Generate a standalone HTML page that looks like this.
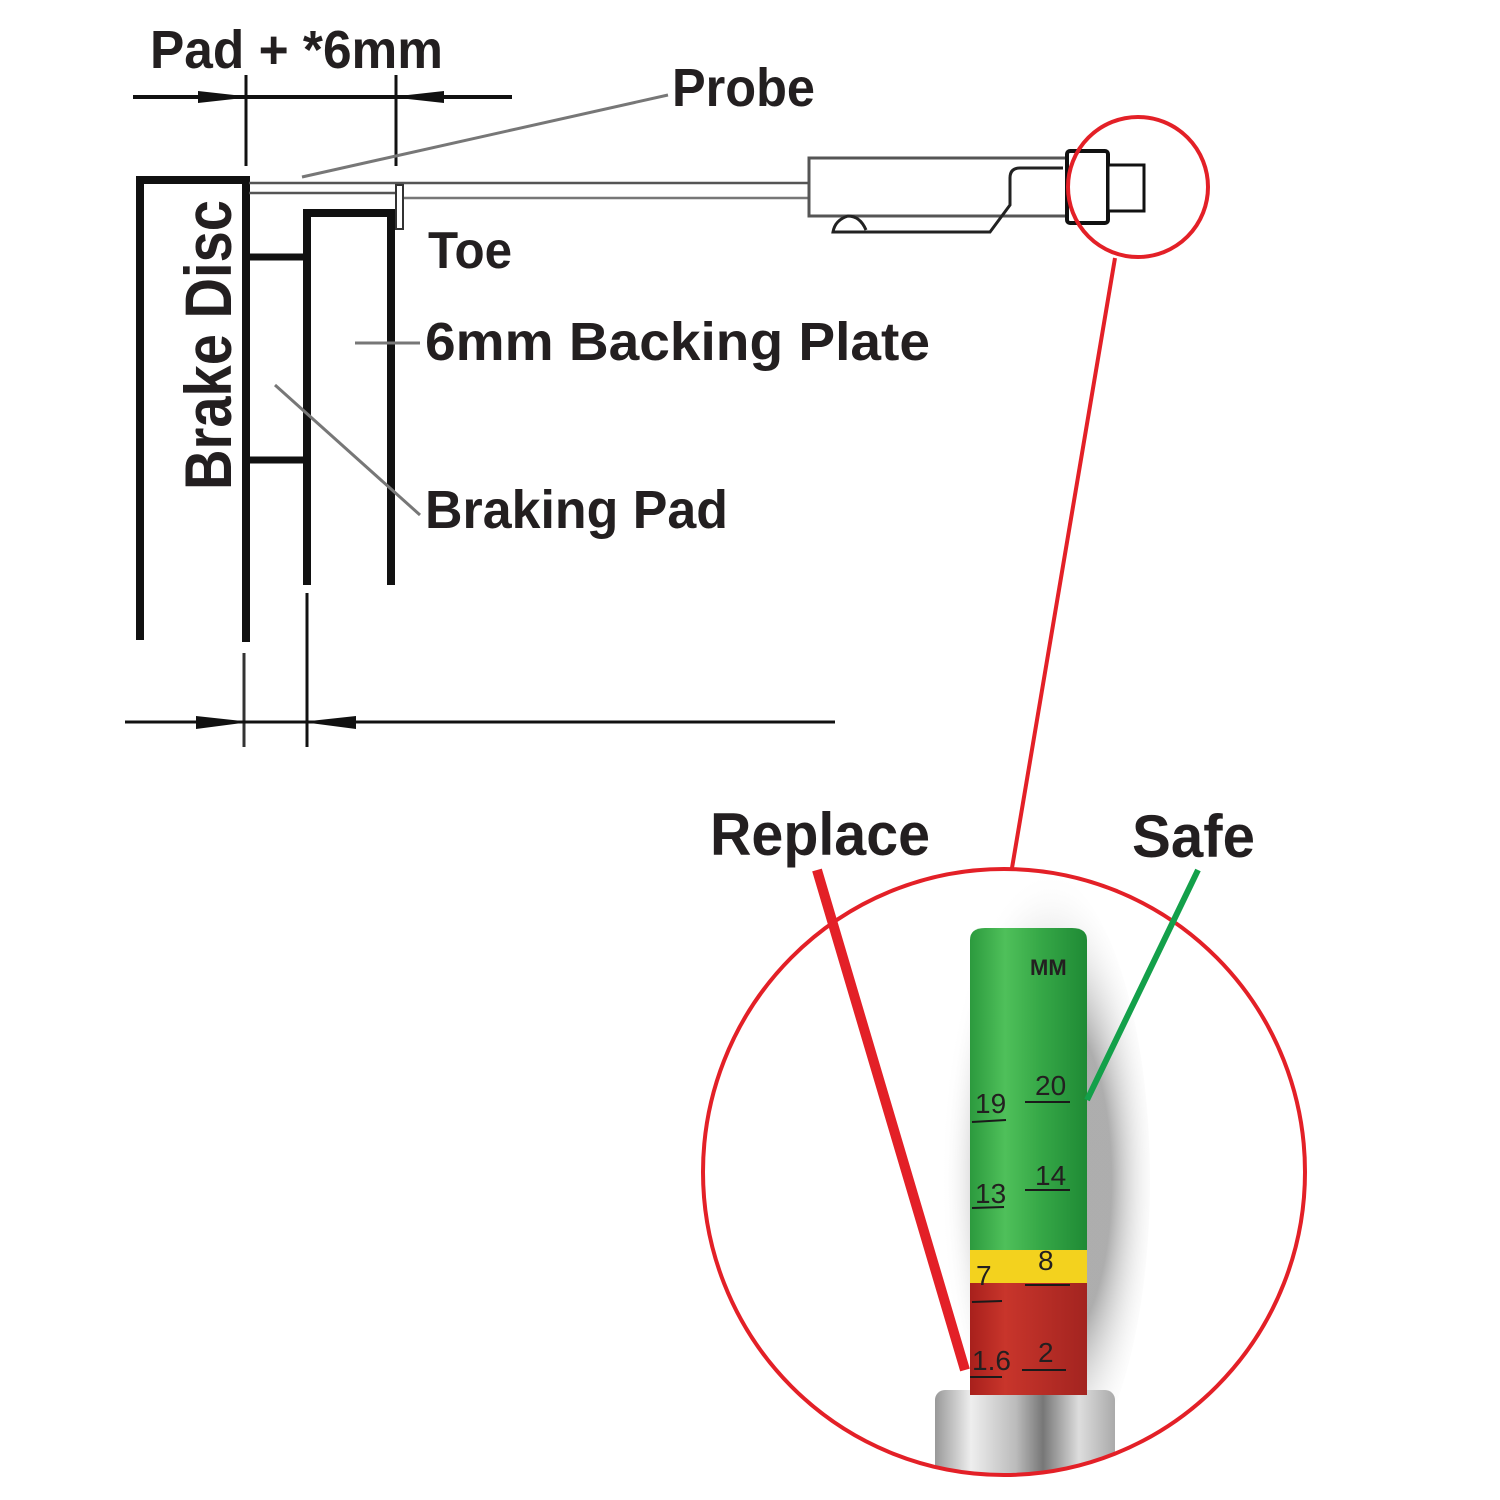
<!DOCTYPE html>
<html><head><meta charset="utf-8"><style>
html,body{margin:0;padding:0;background:#fff}
svg{display:block}
text{font-family:"Liberation Sans Narrow","Liberation Sans",sans-serif;font-weight:bold;fill:#231f20}
</style></head><body>
<svg width="1500" height="1500" viewBox="0 0 1500 1500" xmlns="http://www.w3.org/2000/svg">
<defs>
<radialGradient id="sh" cx="0.55" cy="0.5" r="0.5">
<stop offset="0.55" stop-color="#777" stop-opacity="0.6"/>
<stop offset="1" stop-color="#fff" stop-opacity="0"/>
</radialGradient>
<linearGradient id="gr" x1="0" x2="1">
<stop offset="0" stop-color="#2c9a3e"/><stop offset="0.3" stop-color="#4fc05a"/><stop offset="0.6" stop-color="#36a847"/><stop offset="1" stop-color="#1f8a35"/>
</linearGradient>
<linearGradient id="rd" x1="0" x2="1">
<stop offset="0" stop-color="#a8201c"/><stop offset="0.3" stop-color="#c8352b"/><stop offset="1" stop-color="#a32420"/>
</linearGradient>
<linearGradient id="sv" x1="0" x2="1">
<stop offset="0" stop-color="#999"/><stop offset="0.2" stop-color="#eee"/><stop offset="0.45" stop-color="#bbb"/><stop offset="0.6" stop-color="#777"/><stop offset="0.8" stop-color="#ddd"/><stop offset="1" stop-color="#aaa"/>
</linearGradient>
<clipPath id="cc"><ellipse cx="1004" cy="1172" rx="301" ry="303"/></clipPath>
</defs>

<!-- top dimension -->
<text x="150" y="68" font-size="54" textLength="293" lengthAdjust="spacingAndGlyphs">Pad + *6mm</text>
<line x1="133" y1="97" x2="512" y2="97" stroke="#111" stroke-width="4"/>
<polygon points="198,91 243,96 243,98 198,103" fill="#111"/>
<polygon points="444,91 399,96 399,98 444,103" fill="#111"/>
<line x1="246" y1="75" x2="246" y2="166" stroke="#111" stroke-width="3"/>
<line x1="396" y1="75" x2="396" y2="166" stroke="#111" stroke-width="3"/>

<line x1="302" y1="177" x2="668" y2="95" stroke="#777" stroke-width="3"/>
<text x="672" y="106" font-size="54" textLength="143" lengthAdjust="spacingAndGlyphs">Probe</text>

<path d="M140 640 V180 H246 V642" fill="none" stroke="#111" stroke-width="8"/>
<path d="M307 585 V213 H391 V585" fill="none" stroke="#111" stroke-width="8"/>
<line x1="246" y1="257" x2="307" y2="257" stroke="#111" stroke-width="7"/>
<line x1="246" y1="460" x2="307" y2="460" stroke="#111" stroke-width="7"/>
<text transform="translate(231,490) rotate(-90)" font-size="66" textLength="290" lengthAdjust="spacingAndGlyphs">Brake Disc</text>

<line x1="249" y1="183" x2="808" y2="183" stroke="#555" stroke-width="2.5"/>
<line x1="249" y1="193" x2="396" y2="193" stroke="#555" stroke-width="2.5"/>
<line x1="403" y1="198" x2="808" y2="198" stroke="#777" stroke-width="2.5"/>
<rect x="396" y="185" width="7" height="44" fill="#fff" stroke="#333" stroke-width="2"/>

<rect x="809" y="158" width="258" height="58" fill="#fff" stroke="#555" stroke-width="3"/>
<path d="M1063 168 H1020 Q1010 168 1010 178 V205 L990 232 H833 Q835 220 848 216 Q860 216 866 230" fill="none" stroke="#222" stroke-width="3"/>
<rect x="1067" y="151" width="41" height="72" rx="3" fill="#fff" stroke="#111" stroke-width="4"/>
<rect x="1108" y="165" width="36" height="46" fill="#fff" stroke="#111" stroke-width="3"/>

<text x="428" y="268" font-size="52" textLength="84" lengthAdjust="spacingAndGlyphs">Toe</text>
<line x1="355" y1="343" x2="420" y2="343" stroke="#777" stroke-width="3"/>
<text x="425" y="360" font-size="54" textLength="505" lengthAdjust="spacingAndGlyphs">6mm Backing Plate</text>
<line x1="275" y1="385" x2="420" y2="515" stroke="#777" stroke-width="3"/>
<text x="425" y="528" font-size="54" textLength="303" lengthAdjust="spacingAndGlyphs">Braking Pad</text>

<line x1="244" y1="653" x2="244" y2="747" stroke="#333" stroke-width="3"/>
<line x1="307" y1="593" x2="307" y2="747" stroke="#111" stroke-width="3"/>
<line x1="125" y1="722" x2="835" y2="722" stroke="#111" stroke-width="3"/>
<polygon points="196,716 242,721 242,723 196,729" fill="#111"/>
<polygon points="356,716 310,721 310,723 356,729" fill="#111"/>

<circle cx="1138" cy="187" r="70" fill="none" stroke="#e32027" stroke-width="4"/>
<line x1="1115" y1="258" x2="1012" y2="868" stroke="#e32027" stroke-width="4"/>

<g clip-path="url(#cc)">
<ellipse cx="1040" cy="1180" rx="110" ry="310" fill="url(#sh)"/>
<rect x="935" y="1390" width="180" height="95" rx="10" fill="url(#sv)"/>
</g>
<path d="M970 1250 V940 Q970 928 985 928 H1072 Q1087 928 1087 940 V1250 Z" fill="url(#gr)"/>
<rect x="970" y="1250" width="117" height="33" fill="#f3d21e"/>
<rect x="970" y="1283" width="117" height="112" fill="url(#rd)"/>
<g font-size="28" fill="#1a1a1a">
<text x="1030" y="975" font-size="22">MM</text>
<text x="1035" y="1095" style="font-weight:normal">20</text>
<text x="975" y="1113" style="font-weight:normal">19</text>
<text x="1035" y="1185" style="font-weight:normal">14</text>
<text x="975" y="1203" style="font-weight:normal">13</text>
<text x="1038" y="1270" style="font-weight:normal">8</text>
<text x="976" y="1285" style="font-weight:normal">7</text>
<text x="972" y="1370" style="font-weight:normal">1.6</text>
<text x="1038" y="1362" style="font-weight:normal">2</text>
</g>
<g stroke="#1a1a1a" stroke-width="2">
<line x1="1025" y1="1102" x2="1070" y2="1102"/><line x1="972" y1="1122" x2="1006" y2="1120"/>
<line x1="1025" y1="1190" x2="1070" y2="1190"/><line x1="972" y1="1208" x2="1004" y2="1207"/>
<line x1="1025" y1="1285" x2="1070" y2="1285"/><line x1="972" y1="1302" x2="1002" y2="1301"/>
<line x1="1022" y1="1370" x2="1066" y2="1370"/><line x1="970" y1="1377" x2="1002" y2="1377"/>
</g>

<ellipse cx="1004" cy="1172" rx="301" ry="303" fill="none" stroke="#e32027" stroke-width="4"/>

<line x1="817" y1="870" x2="965" y2="1370" stroke="#e32027" stroke-width="10"/>
<line x1="1198" y1="870" x2="1087" y2="1100" stroke="#13a04a" stroke-width="6"/>
<text x="710" y="855" font-size="60" textLength="220" lengthAdjust="spacingAndGlyphs">Replace</text>
<text x="1132" y="857" font-size="60" textLength="123" lengthAdjust="spacingAndGlyphs">Safe</text>
</svg>
</body></html>
